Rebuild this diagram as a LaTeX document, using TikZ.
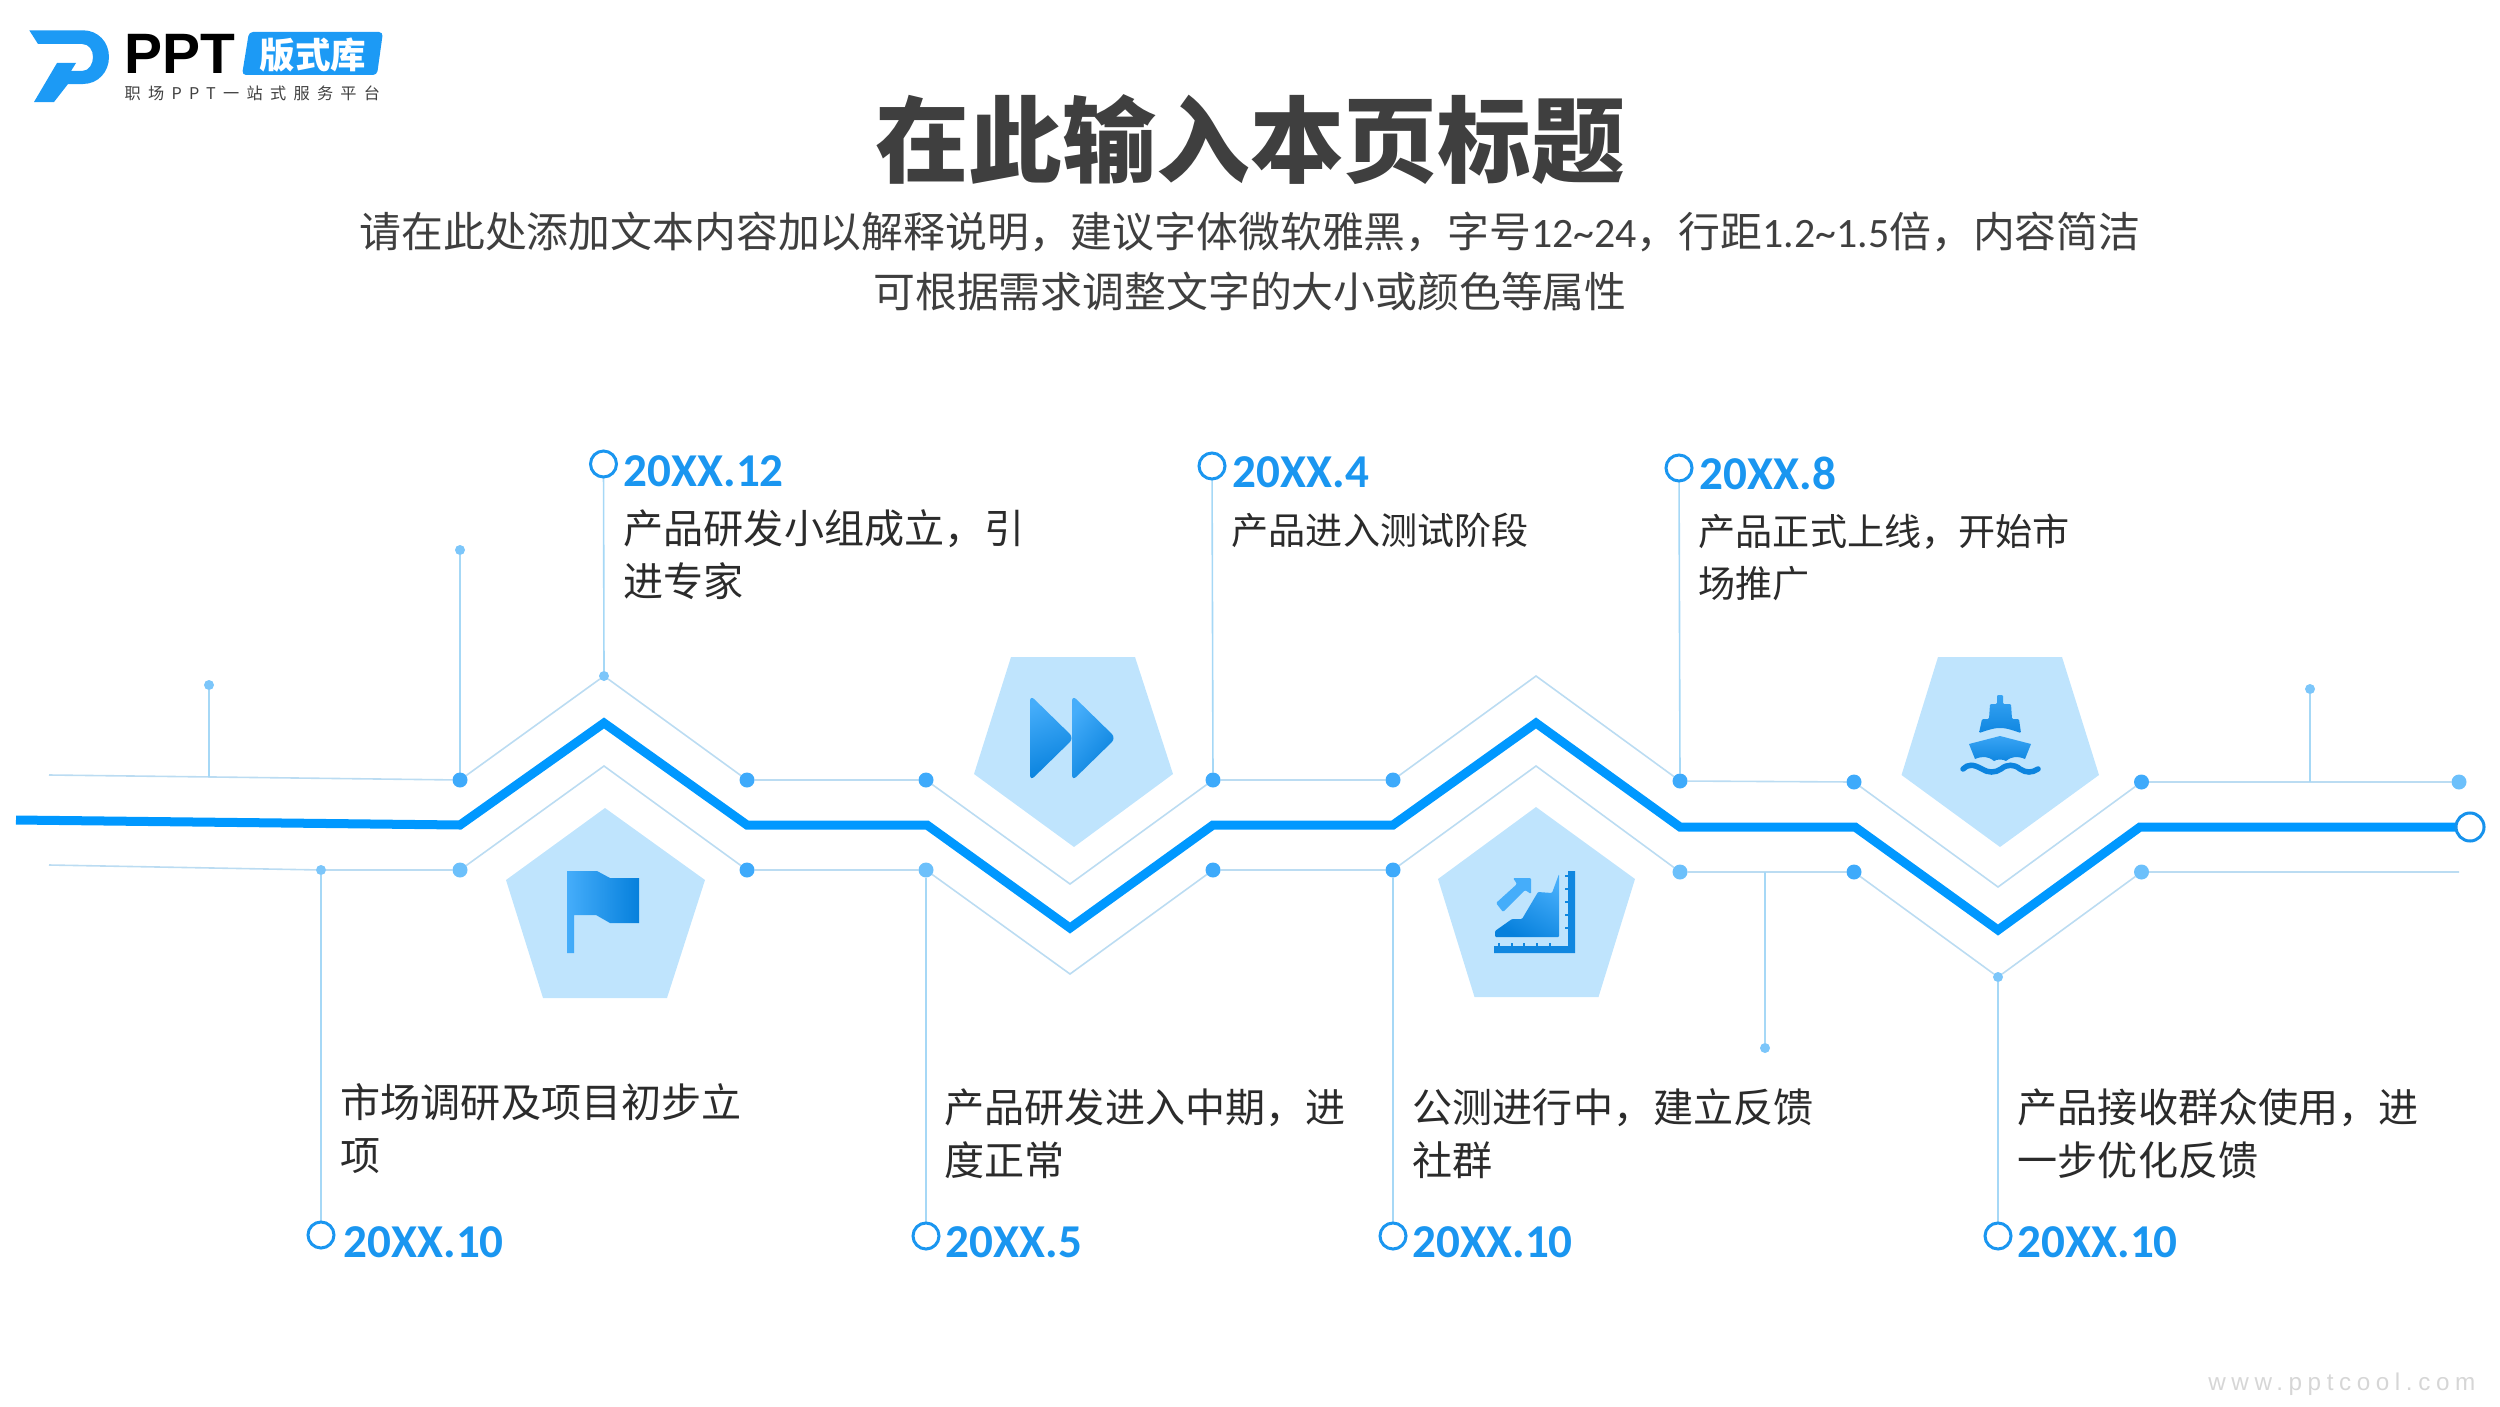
\documentclass[tikz,border=0pt]{standalone}
\usepackage{fontspec}
\setmainfont{Noto Sans CJK SC}
\newfontfamily\datefont{Carlito}
\newfontfamily\logofont{Liberation Sans}
\newfontfamily\spaced[LetterSpace=45]{Noto Sans CJK SC}
\newfontfamily\webfont[LetterSpace=23]{Liberation Sans}
\usetikzlibrary{backgrounds}
\definecolor{mainblue}{HTML}{0098FF}
\definecolor{thinblue}{HTML}{BBDCF2}
\definecolor{stemblue}{HTML}{A6D8F6}
\definecolor{dotblue}{HTML}{3EAAFB}
\definecolor{dotlight}{HTML}{6CC0FB}
\definecolor{dotsmall}{HTML}{7CC6FA}
\definecolor{ringblue}{HTML}{1A96F0}
\definecolor{pentblue}{HTML}{BFE4FD}
\definecolor{iconlight}{HTML}{45ADFA}
\definecolor{icondark}{HTML}{0680DC}
\definecolor{datecol}{HTML}{1A96F0}
\definecolor{bodycol}{HTML}{2B2B2B}
\definecolor{titlecol}{HTML}{3F3F3F}
\definecolor{logoblue}{HTML}{1C9AF5}
\tikzset{
  x=0.01cm,y=-0.01cm,
  mainline/.style={draw=mainblue,line width=0.09cm,miter limit=10},
  thinline/.style={draw=thinblue,line width=0.016cm},
  stemline/.style={draw=stemblue,line width=0.016cm},
  bigdot/.style={circle,fill=dotblue,minimum size=0.15cm,inner sep=0pt,outer sep=0pt},
  lightdot/.style={circle,fill=dotlight,minimum size=0.15cm,inner sep=0pt,outer sep=0pt},
  smalldot/.style={circle,fill=dotsmall,minimum size=0.10cm,inner sep=0pt,outer sep=0pt},
  ringnode/.style={circle,draw=ringblue,fill=white,line width=0.03cm,minimum size=0.26cm,inner sep=0pt,outer sep=0pt},
  pent/.style={fill=pentblue},
  iconfill/.style={left color=iconlight,right color=icondark,draw=none},
  datelbl/.style={anchor=west,inner sep=0pt,text=datecol,font=\datefont\bfseries\fontsize{13.4}{16}\selectfont},
  bodylbl/.style={anchor=north west,inner sep=0pt,text=bodycol,align=left,font=\fontsize{11.4}{15}\selectfont},
  bodysmall/.style={bodylbl,font=\fontsize{10.55}{15}\selectfont},
}
\begin{document}
\begin{tikzpicture}
\useasboundingbox (0,-1) rectangle (2500,1405);
% logo
\fill[logoblue] (29.3,29.3) -- (83,29.3) .. controls (98,29.3) and (109,41) .. (109,56) .. controls (109,71) and (98,83) .. (83,83) -- (68,83) -- (54,101) -- (34,101) -- (57,62) -- (76,62) -- (71,70) -- (82,70) .. controls (89,70) and (93,63) .. (93,56) .. controls (93,49) and (89,43) .. (82,43) -- (38,43) -- cycle;
\node[anchor=west,inner sep=0pt,text=black,font=\logofont\bfseries\fontsize{16.2}{18}\selectfont] (logoppt) at (124,53) {PPT};
\fill[logoblue,rounded corners=0.04cm] (249,31) -- (383,31) -- (377,74) -- (242,74) -- cycle;
\node[inner sep=0pt,text=white,font=\bfseries\fontsize{10.1}{12}\selectfont] (logotag) at (313,54) {版式库};
\node[anchor=west,inner sep=0pt,text=black!75,font=\spaced\fontsize{4.6}{6}\selectfont] (logosub) at (124,92) {职场PPT一站式服务平台};
% title
\node[inner sep=0pt,text=titlecol,font=\bfseries\fontsize{26.65}{32}\selectfont] (title) at (1250,139) {在此输入本页标题};
\node[inner sep=0pt,text=titlecol,align=center,font=\fontsize{11.9}{17.07}\selectfont] (subtitle) at (1250,260) {请在此处添加文本内容加以解释说明，建议字体微软雅黑，字号{\datefont 12\textasciitilde24}，行距{\datefont 1.2\textasciitilde1.5}倍，内容简洁\\可根据需求调整文字的大小或颜色等属性};
% pentagons
\fill[pent] (605,807) -- (705,879) -- (667,997) -- (543,997) -- (506,879) -- cycle;
\fill[pent] (1011,656) -- (1135,656) -- (1173,773) -- (1074,846) -- (974,773) -- cycle;
\fill[pent] (1536,806) -- (1635,878) -- (1598.5,996) -- (1474.5,996) -- (1438,878) -- cycle;
\fill[pent] (1938,656) -- (2062,656) -- (2099,774) -- (2000,846) -- (1901.5,774) -- cycle;
% flag icon
\path[iconfill] (567,870) -- (597,870) -- (610,877) -- (639,877) -- (639,922) -- (610,922) -- (596,914) -- (574,914) -- (574,952) -- (567,952) -- cycle;
% fast-forward icon
\path[top color=iconlight,bottom color=icondark,shading angle=20,rounded corners=0.06cm] (1030,694) -- (1074,737) -- (1030,780) -- cycle;
\path[top color=iconlight,bottom color=icondark,shading angle=50,rounded corners=0.06cm] (1072,694) -- (1116,737) -- (1072,780) -- cycle;
% chart icon
\path[top color=iconlight,bottom color=icondark,shading angle=-30,rounded corners=0.01cm] (1495,930) -- (1512,918) -- (1522,918) -- (1538,891) -- (1552,892) -- (1559,873) -- (1559,936) -- (1495,936) -- cycle;
\fill[iconlight,rounded corners=0.012cm] (1496,902) -- (1517,883) -- (1513,877) -- (1531,877) -- (1531,893) -- (1525,889) -- (1503,911) -- cycle;
\fill[icondark!85!iconlight] (1494,945) -- (1568,945) -- (1568,870) -- (1575,870) -- (1575,952) -- (1494,952) -- cycle;
\foreach \t in {1499,1512,1524,1537,1550} \fill[icondark!85!iconlight] (\t-1,942) rectangle (\t+1,945);
\foreach \t in {875,888,901,914,927} \fill[icondark!85!iconlight] (1565,\t-1) rectangle (1568,\t+1);
% ship icon
\path[top color=iconlight!80!icondark,bottom color=icondark!85!iconlight,rounded corners=0.012cm] (1997,703) -- (1997,694) -- (2003,694) -- (2003,703) -- (2011,703) -- (2012,718) -- (2019,718) -- (2021,732) .. controls (2012,729) and (2006,727) .. (2000,727) .. controls (1994,727) and (1988,729) .. (1979,732) -- (1982,718) -- (1989,718) -- (1990,703) -- cycle;
\path[top color=iconlight!80!icondark,bottom color=icondark!85!iconlight] (2000,735) -- (2031,743) -- (2025,758) .. controls (2018,755) and (2012,755) .. (2006,760) .. controls (2003,758) and (1997,758) .. (1994,760) .. controls (1988,755) and (1982,755) .. (1975,758) -- (1969,743) -- cycle;
\draw[draw=icondark!90!iconlight,line width=0.055cm,line cap=round] (1963,768) .. controls (1968,763) and (1973,763) .. (1982,768) .. controls (1988,772) and (1995,772) .. (2001,768) .. controls (2007,763) and (2014,763) .. (2020,768) .. controls (2026,772) and (2032,772) .. (2038,768);
% main line points
\coordinate (m0) at (16,819);
\coordinate (m1) at (460,824);
\coordinate (m2) at (604,722);
\coordinate (m3) at (747,824);
\coordinate (m4) at (927,824);
\coordinate (m5) at (1070,927);
\coordinate (m6) at (1213,824);
\coordinate (m7) at (1393,824);
\coordinate (m8) at (1536,722);
\coordinate (m9) at (1680,826);
\coordinate (m10) at (1855,826);
\coordinate (m11) at (1998,929);
\coordinate (m12) at (2140,826);
\node[ringnode,minimum size=0.28cm,draw=ringblue!80!icondark] (mend) at (2470,826) {};
% upper rail nodes
\coordinate (us) at (49,774);
\node[bigdot] (u1) at (460,779) {};
\node[smalldot] (upk1) at (604,675) {};
\node[bigdot] (u2) at (747,779) {};
\node[bigdot] (u3) at (926,779) {};
\coordinate (uv1) at (1070,883);
\node[bigdot] (u4) at (1213,779) {};
\node[bigdot] (u5) at (1393,779) {};
\coordinate (upk2) at (1536,675);
\node[bigdot] (u6) at (1680,780) {};
\node[bigdot] (u7) at (1854,781) {};
\coordinate (uv2) at (1998,886);
\node[bigdot] (u8) at (2141.5,781) {};
\node[lightdot] (u9) at (2459,781) {};
% lower rail nodes
\coordinate (ls) at (49,864);
\node[smalldot] (l0) at (321,869) {};
\node[lightdot] (l1) at (460,869) {};
\coordinate (lpk1) at (604,765);
\node[bigdot] (l2) at (747,869) {};
\node[lightdot] (l3) at (926,869) {};
\coordinate (lv1) at (1070,973);
\node[bigdot] (l4) at (1213,869) {};
\node[bigdot] (l5) at (1393,869) {};
\coordinate (lpk2) at (1536,765);
\node[lightdot] (l6) at (1680,871) {};
\coordinate (ljoin) at (1765,871);
\node[bigdot] (l7) at (1854,871) {};
\node[smalldot] (lv2) at (1998,976) {};
\node[lightdot] (l8) at (2141.5,871) {};
\coordinate (le) at (2459,871);
% free stems' dots
\node[smalldot] (s1) at (209,684) {};
\coordinate (s1b) at (209,776);
\node[smalldot] (s2) at (460,549) {};
\node[smalldot] (s3) at (2310,688) {};
\coordinate (s3b) at (2310,781);
\node[smalldot] (s4) at (1765,1047) {};
% rings
\node[ringnode] (r1) at (603.5,463) {};
\node[ringnode] (r2) at (1212,465) {};
\node[ringnode] (r3) at (1679,467) {};
\node[ringnode] (r4) at (321,1234) {};
\node[ringnode] (r5) at (926,1235) {};
\node[ringnode] (r6) at (1393,1235) {};
\node[ringnode] (r7) at (1998,1235) {};
\begin{scope}[on background layer]
\draw[mainline] (m0) -- (m1) -- (m2) -- (m3) -- (m4) -- (m5) -- (m6) -- (m7) -- (m8) -- (m9) -- (m10) -- (m11) -- (m12) -- (mend);
\draw[thinline] (us) -- (u1) -- (upk1) -- (u2) -- (u3) -- (uv1) -- (u4) -- (u5) -- (upk2) -- (u6) -- (u7) -- (uv2) -- (u8) -- (u9);
\draw[thinline] (ls) -- (l0) -- (l1) -- (lpk1) -- (l2) -- (l3) -- (lv1) -- (l4) -- (l5) -- (lpk2) -- (l6) -- (l7) -- (lv2) -- (l8) -- (le);
\draw[stemline] (s1) -- (s1b);
\draw[stemline] (s2) -- (u1);
\draw[stemline] (s3) -- (s3b);
\draw[stemline] (ljoin) -- (s4);
\draw[stemline] (r1) -- (upk1);
\draw[stemline] (r2) -- (u4);
\draw[stemline] (r3) -- (u6);
\draw[stemline] (l0) -- (r4);
\draw[stemline] (l3) -- (r5);
\draw[stemline] (l5) -- (r6);
\draw[stemline] (lv2) -- (r7);
\end{scope}
% labels
\node[datelbl] (d1) at (623,470) {20XX.12};
\node[bodylbl] (b1) at (623,508) {产品研发小组成立，引\\进专家};
\node[datelbl] (d2) at (1232,471) {20XX.4};
\node[bodysmall] (b2) at (1231,511) {产品进入测试阶段};
\node[datelbl] (d3) at (1699,472) {20XX.8};
\node[bodysmall] (b3) at (1698,512) {产品正式上线，开始市\\场推广};
\node[bodylbl] (b4) at (340,1082) {市场调研及项目初步立\\项};
\node[datelbl] (d4) at (343,1241) {20XX.10};
\node[bodylbl] (b5) at (944,1087) {产品研发进入中期，进\\度正常};
\node[datelbl] (d5) at (945,1241) {20XX.5};
\node[bodylbl] (b6) at (1412,1087) {公测进行中，建立反馈\\社群};
\node[datelbl] (d6) at (1412,1241) {20XX.10};
\node[bodylbl] (b7) at (2017,1087) {产品接收群众使用，进\\一步优化反馈};
\node[datelbl] (d7) at (2017,1241) {20XX.10};
\node[anchor=east,inner sep=0pt,text=black!16,font=\webfont\fontsize{6.9}{9}\selectfont] (web) at (2476,1383) {www.pptcool.com};
\end{tikzpicture}
\end{document}
